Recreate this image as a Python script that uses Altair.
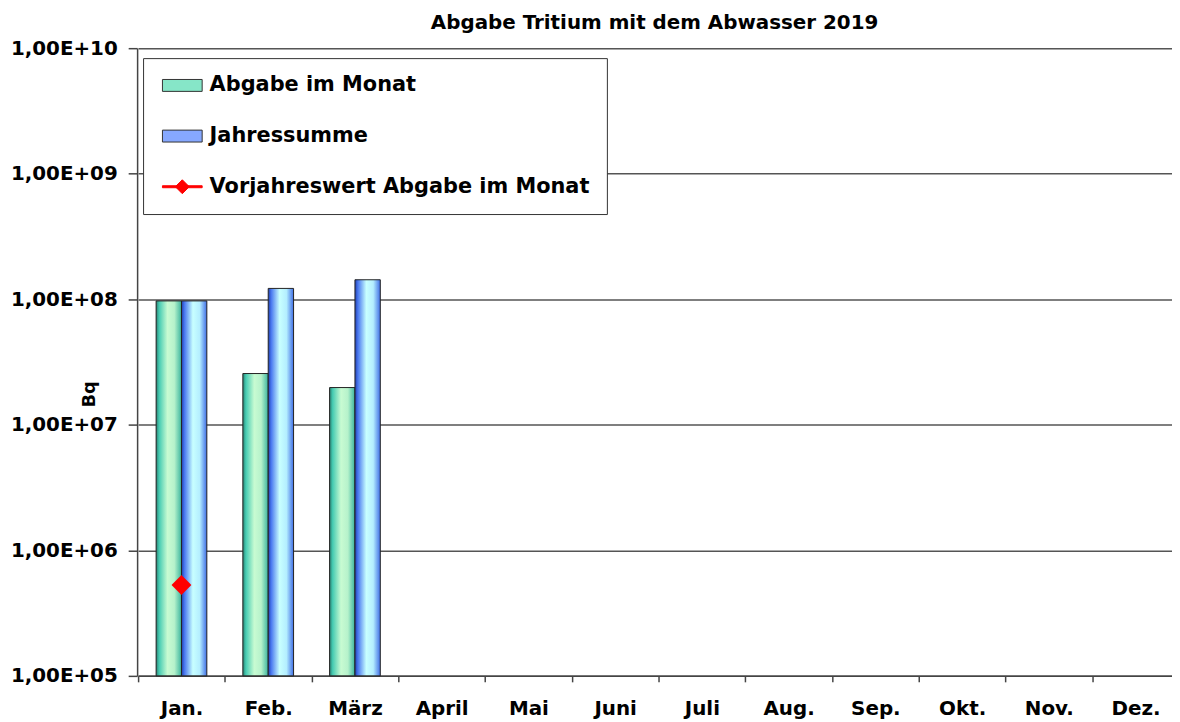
import altair as alt
import pandas as pd

months = ["Jan.", "Feb.", "März", "April", "Mai", "Juni", "Juli", "Aug.", "Sep.", "Okt.", "Nov.", "Dez."]
series_names = ["Abgabe im Monat", "Jahressumme", "Vorjahreswert Abgabe im Monat"]
monthly_values = [9.7e7, 2.56e7, 1.98e7]
annual_values = [9.7e7, 1.22e8, 1.43e8]
prev_year_values = [5.3e5]
y_ticks = [1e5, 1e6, 1e7, 1e8, 1e9, 1e10]

FONT = "DejaVu Sans"

monthly_df = pd.DataFrame({"month": months[:len(monthly_values)], "series": series_names[0], "value": monthly_values})
annual_df = pd.DataFrame({"month": months[:len(annual_values)], "series": series_names[1], "value": annual_values})
prev_df = pd.DataFrame({"month": months[:len(prev_year_values)], "series": series_names[2], "value": prev_year_values})
legend_df = pd.DataFrame({"series": series_names})

grad_month = alt.LinearGradient(
    gradient="linear", x1=0, x2=1, y1=0, y2=0,
    stops=[
        alt.GradientStop(offset=0.0, color="#2a7f70"),
        alt.GradientStop(offset=0.12, color="#45cbb2"),
        alt.GradientStop(offset=0.45, color="#c8fbd2"),
        alt.GradientStop(offset=0.72, color="#b6f2cb"),
        alt.GradientStop(offset=1.0, color="#3ab59e"),
    ],
)
grad_year = alt.LinearGradient(
    gradient="linear", x1=0, x2=1, y1=0, y2=0,
    stops=[
        alt.GradientStop(offset=0.0, color="#1f3fae"),
        alt.GradientStop(offset=0.12, color="#4a78f0"),
        alt.GradientStop(offset=0.45, color="#c8ffff"),
        alt.GradientStop(offset=0.72, color="#b4eeff"),
        alt.GradientStop(offset=1.0, color="#3f6de6"),
    ],
)

x_enc = alt.X(
    "month:N",
    sort=months,
    scale=alt.Scale(domain=months, paddingInner=0, paddingOuter=0, range=[1, 1049]),
    axis=alt.Axis(
        title=None, labelAngle=0, tickBand="extent", ticks=True, tickSize=6,
        tickColor="#444", tickWidth=1.5, labelPadding=17, labelFont=FONT,
        labelFontSize=20, labelFontWeight="bold", labelColor="black",
        domainColor="#444", domainWidth=1.5, grid=False,
    ),
)
y_enc = alt.Y(
    "value:Q",
    scale=alt.Scale(type="log", domain=[1e5, 1e10]),
    axis=alt.Axis(
        title="Bq", values=y_ticks,
        labelExpr="'1,00E+' + (round(log(datum.value)/LN10) < 10 ? '0' : '') + round(log(datum.value)/LN10)",
        tickSize=9, tickColor="#444", tickWidth=1.5, labelPadding=11,
        labelFont=FONT, labelFontSize=20, labelFontWeight="bold", labelColor="black",
        domainColor="#444", domainWidth=1.5, grid=True, gridColor="#555", gridWidth=1.5,
        titleFont=FONT, titleFontSize=18, titleFontWeight="bold", titleColor="black",
        titleX=-48, titleY=348, titleAngle=-90, titleBaseline="middle", titleAlign="center",
    ),
)
xoff = alt.XOffset("series:N", scale=alt.Scale(domain=series_names[:2], paddingInner=0, paddingOuter=0.71))

bars_month = alt.Chart(monthly_df).mark_bar(fill=grad_month, stroke="#222", strokeWidth=1).encode(
    x=x_enc, y=y_enc, y2=alt.datum(1e5), xOffset=xoff
)
bars_year = alt.Chart(annual_df).mark_bar(fill=grad_year, stroke="#222", strokeWidth=1).encode(
    x=x_enc, y=y_enc, y2=alt.datum(1e5), xOffset=xoff
)
prev_points = alt.Chart(prev_df).mark_point(shape="diamond", filled=True, size=400, color="#ff0000", opacity=1).encode(
    x=x_enc, y=y_enc
)

rect_path = "M-0.8,-0.6H3.2V0.6H-0.8Z"
diamond_path = "M-0.8,-0.1H3.2V0.1H-0.8Z M1.2,-0.7L1.9,0L1.2,0.7L0.5,0Z"

leg = alt.Legend(
    title=None, orient="none", legendX=6, legendY=10, padding=17,
    strokeColor="#333", fillColor="white", symbolSize=400, symbolStrokeWidth=1,
    labelFont=FONT, labelFontSize=21, labelFontWeight="bold", labelColor="black",
    labelOffset=29, rowPadding=29, labelLimit=600,
)
legend_layer = alt.Chart(legend_df).transform_filter("false").mark_point(filled=True, size=400, opacity=1).encode(
    color=alt.Color("series:N", scale=alt.Scale(domain=series_names, range=["#86e6c8", "#86a8ff", "#ff0000"]), legend=leg),
    shape=alt.Shape("series:N", scale=alt.Scale(domain=series_names, range=[rect_path, rect_path, diamond_path]), legend=leg),
    stroke=alt.Stroke("series:N", scale=alt.Scale(domain=series_names, range=["#333333", "#333333", "#ff0000"]), legend=leg),
)

chart = alt.layer(bars_month, bars_year, prev_points, legend_layer).properties(
    width=1042, height=632,
    autosize=alt.AutoSizeParams(type="none"),
    padding={"left": 130, "top": 38, "right": 0, "bottom": 46},
    title=alt.TitleParams(
        "Abgabe Tritium mit dem Abwasser 2019", font=FONT, fontSize=20, fontWeight="bold",
        color="black", anchor="middle", frame="group", offset=5,
    ),
).configure_view(strokeWidth=0).configure(background="white")

chart.save("out.html", embed_options={"renderer": "svg", "actions": False})
